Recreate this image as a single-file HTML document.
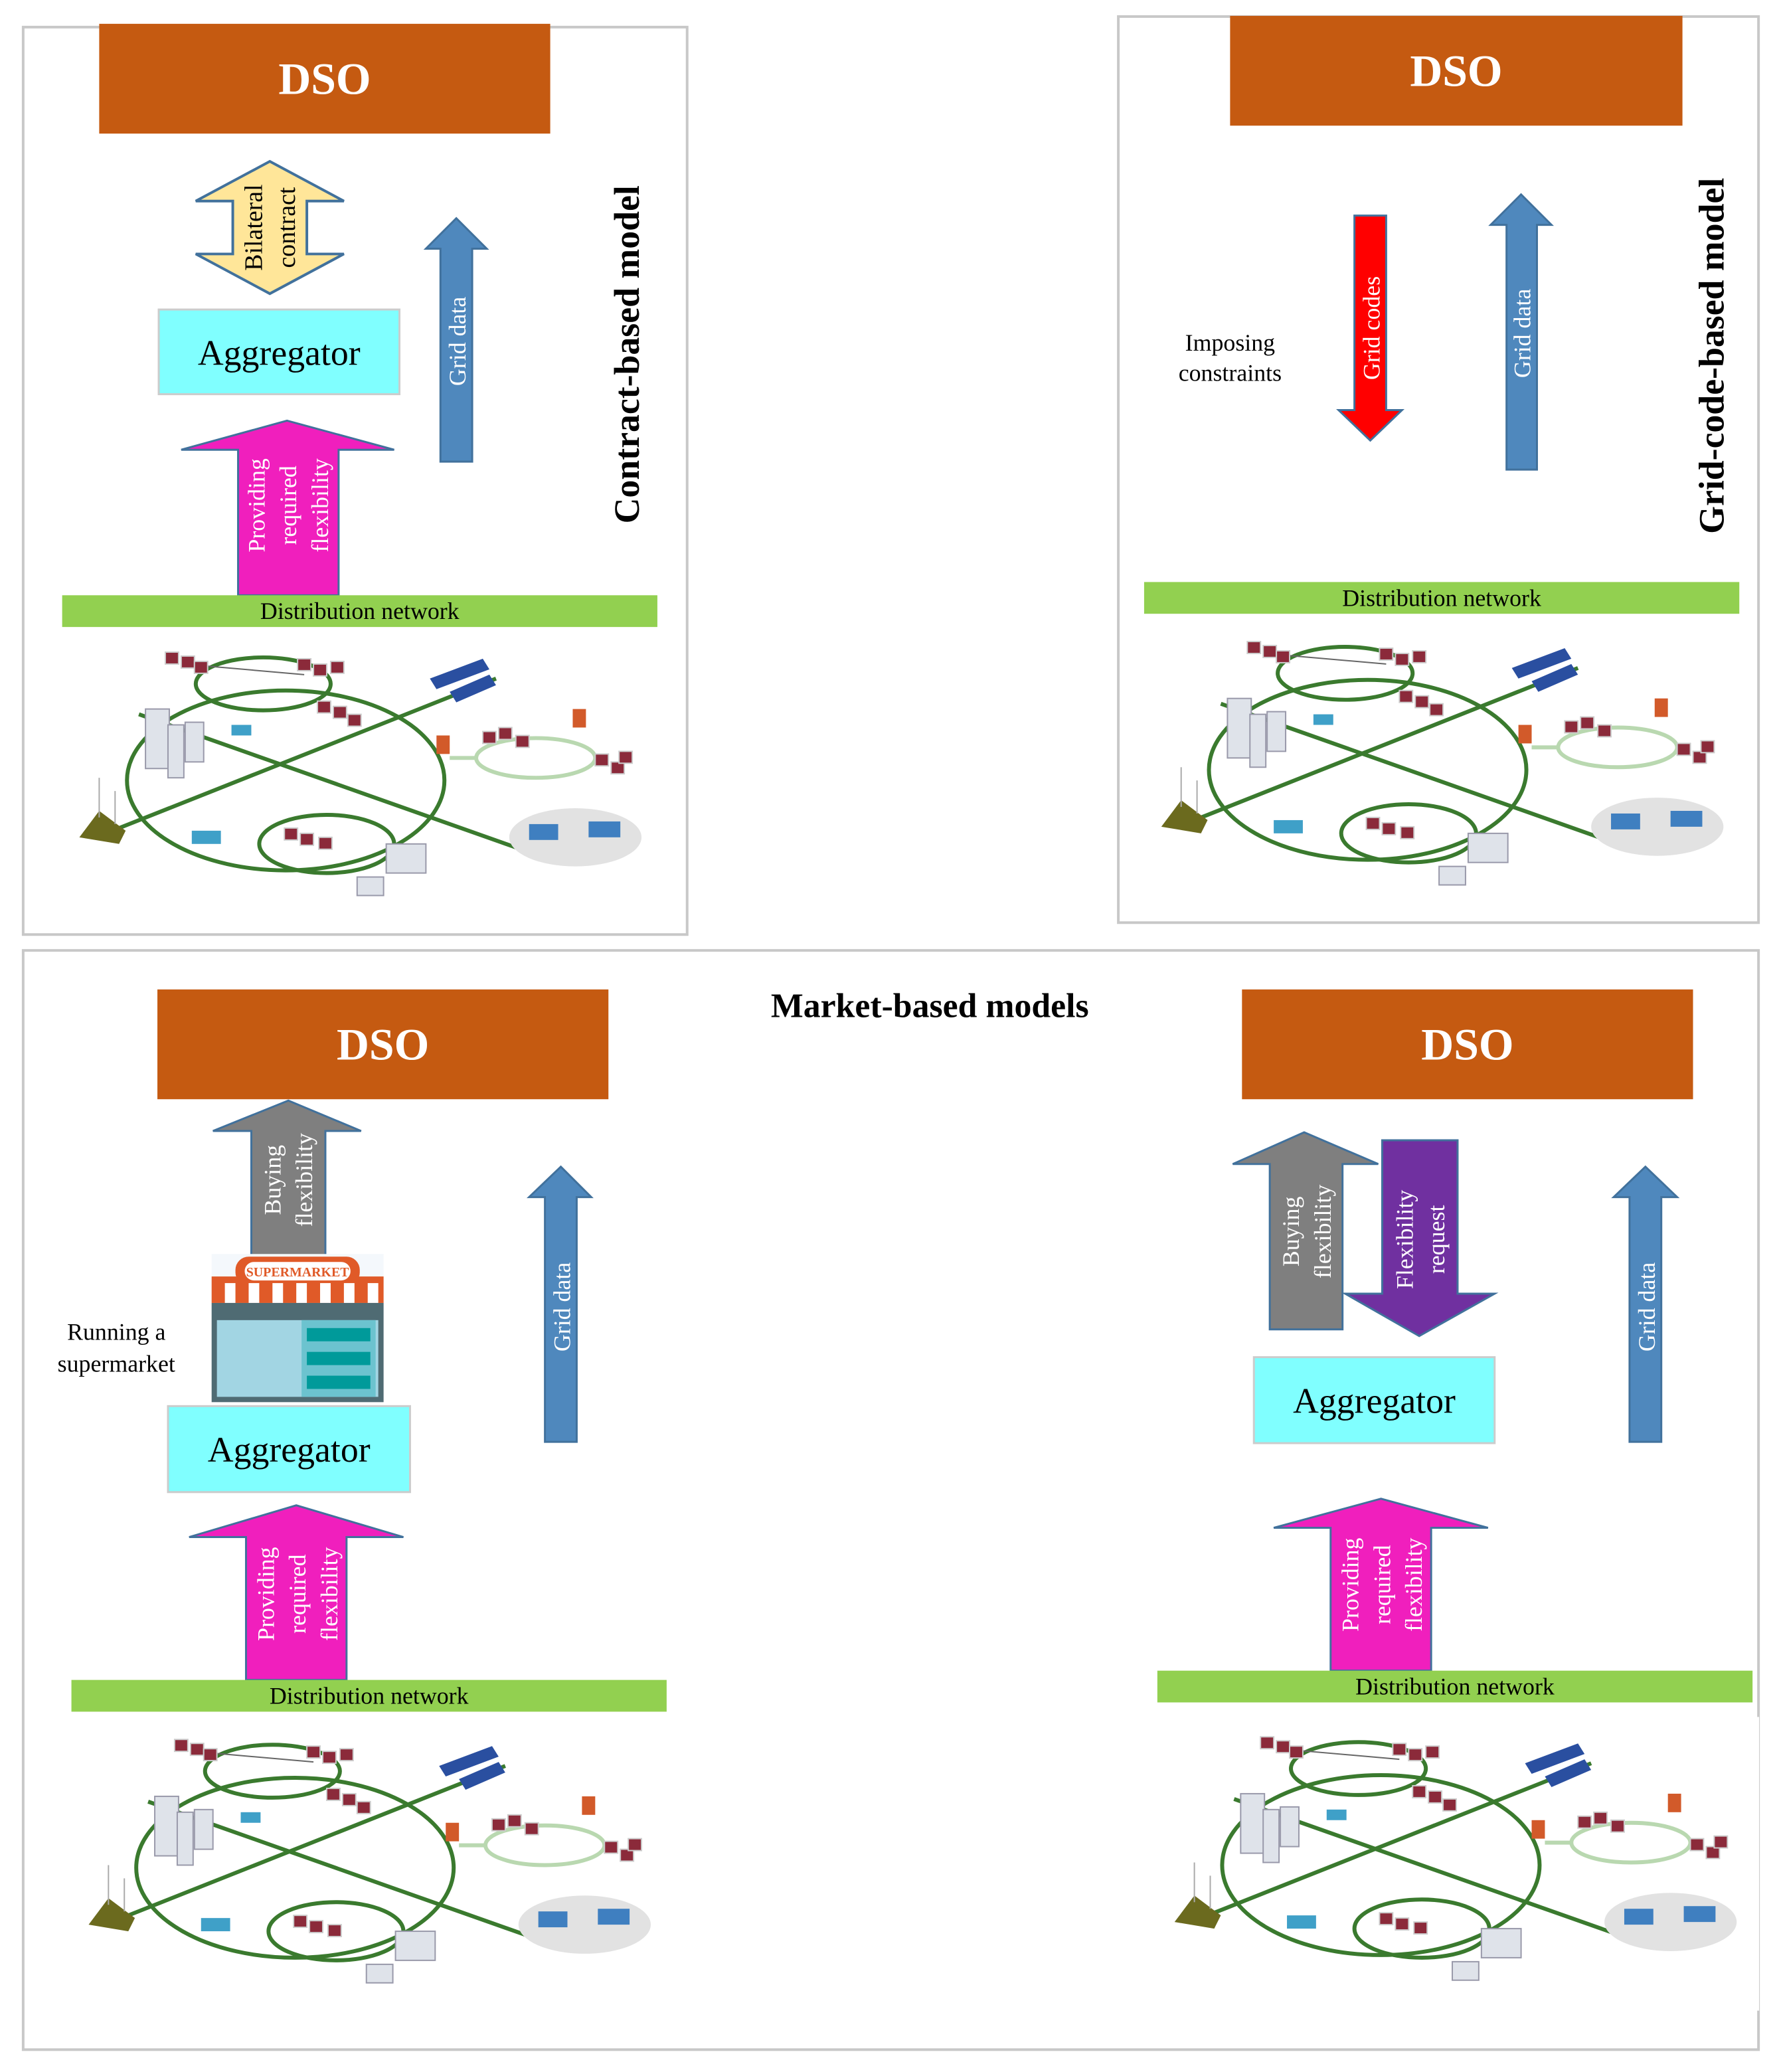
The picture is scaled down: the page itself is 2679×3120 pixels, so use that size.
<!DOCTYPE html>
<html><head><meta charset="utf-8"><style>
html,body{margin:0;padding:0;background:#fff}
svg{display:block}
text{font-family:"Liberation Serif",serif}
</style></head><body>
<svg width="2679" height="3120" viewBox="0 0 1345 1566.4" preserveAspectRatio="none" xmlns="http://www.w3.org/2000/svg">
<defs>
<g id="net">
 <rect x="0" y="0" width="447" height="222" fill="#fff"/>
 <g fill="none" stroke="#3a7a2e" stroke-width="3">
  <ellipse cx="144" cy="39" rx="51" ry="20"/>
  <ellipse cx="161" cy="112" rx="120" ry="68"/>
  <ellipse cx="192" cy="160" rx="51" ry="22"/>
  <line x1="30" y1="150" x2="320" y2="35"/>
  <line x1="50" y1="62" x2="370" y2="175"/>
 </g>
 <g fill="none" stroke="#b9d8b0" stroke-width="3">
  <ellipse cx="350" cy="95" rx="45" ry="15"/>
  <line x1="285" y1="95" x2="305" y2="95"/>
 </g>
 <line x1="95" y1="25" x2="175" y2="32" stroke="#666" stroke-width="1"/>
 <g fill="#8b2a3a" stroke="#ccc" stroke-width="1">
  <rect x="70" y="15" width="10" height="9"/><rect x="82" y="18" width="10" height="9"/><rect x="92" y="22" width="10" height="9"/>
  <rect x="170" y="20" width="10" height="9"/><rect x="182" y="24" width="10" height="9"/><rect x="195" y="22" width="10" height="9"/>
  <rect x="185" y="52" width="10" height="9"/><rect x="197" y="56" width="10" height="9"/><rect x="208" y="62" width="10" height="9"/>
  <rect x="310" y="75" width="10" height="9"/><rect x="322" y="72" width="10" height="9"/><rect x="335" y="78" width="10" height="9"/>
  <rect x="395" y="92" width="10" height="9"/><rect x="407" y="98" width="10" height="9"/><rect x="413" y="90" width="10" height="9"/>
  <rect x="160" y="148" width="10" height="9"/><rect x="172" y="152" width="10" height="9"/><rect x="186" y="155" width="10" height="9"/>
 </g>
 <g fill="#2a4fa0"><polygon points="270,35 310,20 315,28 275,43"/><polygon points="285,45 315,32 320,40 290,53"/></g>
 <g fill="#dfe3ea" stroke="#99a" stroke-width="1">
  <rect x="55" y="58" width="18" height="45"/><rect x="72" y="70" width="12" height="40"/><rect x="85" y="68" width="14" height="30"/>
  <rect x="237" y="160" width="30" height="22"/><rect x="215" y="185" width="20" height="14"/>
 </g>
 <ellipse cx="380" cy="155" rx="50" ry="22" fill="#e2e2e2"/>
 <rect x="345" y="145" width="22" height="12" fill="#3f7fc0"/><rect x="390" y="143" width="24" height="12" fill="#3f7fc0"/>
 <rect x="275" y="78" width="10" height="14" fill="#d25a2a"/><rect x="378" y="58" width="10" height="14" fill="#d25a2a"/>
 <polygon points="5,155 20,135 40,150 35,160" fill="#6b6a1e"/>
 <g stroke="#aaa" stroke-width="1"><line x1="20" y1="140" x2="20" y2="110"/><line x1="32" y1="145" x2="32" y2="120"/></g>
 <rect x="90" y="150" width="22" height="10" fill="#3fa0c8"/><rect x="120" y="70" width="15" height="8" fill="#3fa0c8"/>
</g>
</defs>

<!-- Box 1 -->
<rect x="17.5" y="20.5" width="502" height="686" fill="none" stroke="#c8c8c8" stroke-width="2"/>
<rect x="75" y="18" width="341" height="83" fill="#c55a11"/>
<text x="245.5" y="71" font-size="34" font-weight="bold" fill="#fff" text-anchor="middle">DSO</text>
<polygon points="204,122 260,152 232,152 232,192 260,192 204,222 148,192 176,192 176,152 148,152" fill="#ffe699" stroke="#41719c" stroke-width="2"/>
<text transform="translate(198,172) rotate(-90)" font-size="19" text-anchor="middle">Bilateral</text>
<text transform="translate(223,172) rotate(-90)" font-size="19" text-anchor="middle">contract</text>
<rect x="120" y="234" width="182" height="64" fill="#80ffff" stroke="#ccc" stroke-width="1.5"/>
<text x="211" y="276" font-size="27" text-anchor="middle">Aggregator</text>
<polygon points="345,165 368,188 357,188 357,349 333,349 333,188 322,188" fill="#4f88bd" stroke="#41719c" stroke-width="1.5"/>
<text transform="translate(352,258) rotate(-90)" font-size="18" fill="#fff" text-anchor="middle">Grid data</text>
<polygon points="217,318 298,340 256,340 256,450 180,450 180,340 137,340" fill="#f01fbd" stroke="#41719c" stroke-width="1.5"/>
<text transform="translate(200,382) rotate(-90)" font-size="18" fill="#fff" text-anchor="middle">Providing</text>
<text transform="translate(224,382) rotate(-90)" font-size="18" fill="#fff" text-anchor="middle">required</text>
<text transform="translate(248,382) rotate(-90)" font-size="18" fill="#fff" text-anchor="middle">flexibility</text>
<text transform="translate(483,268) rotate(-90)" font-size="27" font-weight="bold" text-anchor="middle">Contract-based model</text>
<rect x="47" y="450" width="450" height="24" fill="#92d050"/>
<text x="272" y="468" font-size="18" text-anchor="middle">Distribution network</text>
<use href="#net" x="55" y="478"/>

<!-- Box 2 -->
<rect x="845.5" y="12.5" width="484" height="685" fill="none" stroke="#c8c8c8" stroke-width="2"/>
<rect x="930" y="12" width="342" height="83" fill="#c55a11"/>
<text x="1101" y="65" font-size="34" font-weight="bold" fill="#fff" text-anchor="middle">DSO</text>
<polygon points="1024,163 1048,163 1048,310 1060,310 1036,333 1012,310 1024,310" fill="#ff0000" stroke="#41719c" stroke-width="1.5"/>
<text transform="translate(1043,248) rotate(-90)" font-size="18" fill="#fff" text-anchor="middle">Grid codes</text>
<polygon points="1150,147 1173,170 1162,170 1162,355 1139,355 1139,170 1127,170" fill="#4f88bd" stroke="#41719c" stroke-width="1.5"/>
<text transform="translate(1157,252) rotate(-90)" font-size="18" fill="#fff" text-anchor="middle">Grid data</text>
<text x="930" y="265" font-size="18" text-anchor="middle">Imposing</text>
<text x="930" y="288" font-size="18" text-anchor="middle">constraints</text>
<text transform="translate(1303,269) rotate(-90)" font-size="27" font-weight="bold" text-anchor="middle">Grid-code-based model</text>
<rect x="865" y="440" width="450" height="24" fill="#92d050"/>
<text x="1090" y="458" font-size="18" text-anchor="middle">Distribution network</text>
<use href="#net" x="873" y="470"/>

<!-- Box 3 -->
<rect x="17.5" y="718.5" width="1312" height="831" fill="none" stroke="#c8c8c8" stroke-width="2"/>
<text x="703" y="769" font-size="26" font-weight="bold" text-anchor="middle">Market-based models</text>
<rect x="119" y="748" width="341" height="83" fill="#c55a11"/>
<text x="289.5" y="801" font-size="34" font-weight="bold" fill="#fff" text-anchor="middle">DSO</text>
<rect x="939" y="748" width="341" height="83" fill="#c55a11"/>
<text x="1109.5" y="801" font-size="34" font-weight="bold" fill="#fff" text-anchor="middle">DSO</text>

<!-- left market -->
<polygon points="218,832 273,855 246,855 246,950 190,950 190,855 161,855" fill="#7f7f7f" stroke="#41719c" stroke-width="1.5"/>
<text transform="translate(212,892) rotate(-90)" font-size="18" fill="#fff" text-anchor="middle">Buying</text>
<text transform="translate(236,892) rotate(-90)" font-size="18" fill="#fff" text-anchor="middle">flexibility</text>
<rect x="160" y="948" width="130" height="112" fill="#f4f8fc"/>
<rect x="160" y="965" width="130" height="20" fill="#e05a28"/>
<rect x="178" y="950" width="94" height="22" rx="10" fill="#e05a28"/>
<rect x="185" y="954" width="80" height="14" rx="7" fill="#fff"/>
<text x="225" y="965" font-size="10" font-weight="bold" fill="#e05a28" text-anchor="middle" font-family="Liberation Sans">SUPERMARKET</text>
<g fill="#fff"><rect x="170" y="970" width="8" height="15"/><rect x="188" y="970" width="8" height="15"/><rect x="206" y="970" width="8" height="15"/><rect x="224" y="970" width="8" height="15"/><rect x="242" y="970" width="8" height="15"/><rect x="260" y="970" width="8" height="15"/><rect x="278" y="970" width="8" height="15"/></g>
<rect x="160" y="985" width="130" height="75" fill="#4f6b73"/>
<rect x="164" y="998" width="122" height="58" fill="#a2d5e3"/>
<rect x="228" y="998" width="56" height="58" fill="#6cc3cf"/>
<rect x="232" y="1004" width="48" height="10" fill="#009a9a"/><rect x="232" y="1022" width="48" height="10" fill="#009a9a"/><rect x="232" y="1040" width="48" height="10" fill="#009a9a"/>
<text x="88" y="1013" font-size="18" text-anchor="middle">Running a</text>
<text x="88" y="1037" font-size="18" text-anchor="middle">supermarket</text>
<rect x="127" y="1063" width="183" height="65" fill="#80ffff" stroke="#ccc" stroke-width="1.5"/>
<text x="218.5" y="1105" font-size="27" text-anchor="middle">Aggregator</text>
<polygon points="424,882 447,905 436,905 436,1090 412,1090 412,905 400,905" fill="#4f88bd" stroke="#41719c" stroke-width="1.5"/>
<text transform="translate(431,988) rotate(-90)" font-size="18" fill="#fff" text-anchor="middle">Grid data</text>
<polygon points="224,1138 305,1162 262,1162 262,1270 186,1270 186,1162 143,1162" fill="#f01fbd" stroke="#41719c" stroke-width="1.5"/>
<text transform="translate(207,1205) rotate(-90)" font-size="18" fill="#fff" text-anchor="middle">Providing</text>
<text transform="translate(231,1205) rotate(-90)" font-size="18" fill="#fff" text-anchor="middle">required</text>
<text transform="translate(255,1205) rotate(-90)" font-size="18" fill="#fff" text-anchor="middle">flexibility</text>
<rect x="54" y="1270" width="450" height="24" fill="#92d050"/>
<text x="279" y="1288" font-size="18" text-anchor="middle">Distribution network</text>
<use href="#net" x="62" y="1300"/>

<!-- right market -->
<polygon points="986,856 1042,880 1015,880 1015,1005 960,1005 960,880 932,880" fill="#7f7f7f" stroke="#41719c" stroke-width="1.5"/>
<text transform="translate(982,931) rotate(-90)" font-size="18" fill="#fff" text-anchor="middle">Buying</text>
<text transform="translate(1006,931) rotate(-90)" font-size="18" fill="#fff" text-anchor="middle">flexibility</text>
<polygon points="1045,862 1102,862 1102,978 1130,978 1073,1010 1017,978 1045,978" fill="#7030a0" stroke="#41719c" stroke-width="1.5"/>
<text transform="translate(1068,937) rotate(-90)" font-size="18" fill="#fff" text-anchor="middle">Flexibility</text>
<text transform="translate(1092,937) rotate(-90)" font-size="18" fill="#fff" text-anchor="middle">request</text>
<rect x="948" y="1026" width="182" height="65" fill="#80ffff" stroke="#ccc" stroke-width="1.5"/>
<text x="1039" y="1068" font-size="27" text-anchor="middle">Aggregator</text>
<polygon points="1244,882 1268,905 1256,905 1256,1090 1232,1090 1232,905 1220,905" fill="#4f88bd" stroke="#41719c" stroke-width="1.5"/>
<text transform="translate(1251,988) rotate(-90)" font-size="18" fill="#fff" text-anchor="middle">Grid data</text>
<polygon points="1044,1133 1125,1155 1082,1155 1082,1263 1006,1263 1006,1155 963,1155" fill="#f01fbd" stroke="#41719c" stroke-width="1.5"/>
<text transform="translate(1027,1198) rotate(-90)" font-size="18" fill="#fff" text-anchor="middle">Providing</text>
<text transform="translate(1051,1198) rotate(-90)" font-size="18" fill="#fff" text-anchor="middle">required</text>
<text transform="translate(1075,1198) rotate(-90)" font-size="18" fill="#fff" text-anchor="middle">flexibility</text>
<rect x="875" y="1263" width="450" height="24" fill="#92d050"/>
<text x="1100" y="1281" font-size="18" text-anchor="middle">Distribution network</text>
<use href="#net" x="883" y="1298"/>
</svg>
</body></html>
